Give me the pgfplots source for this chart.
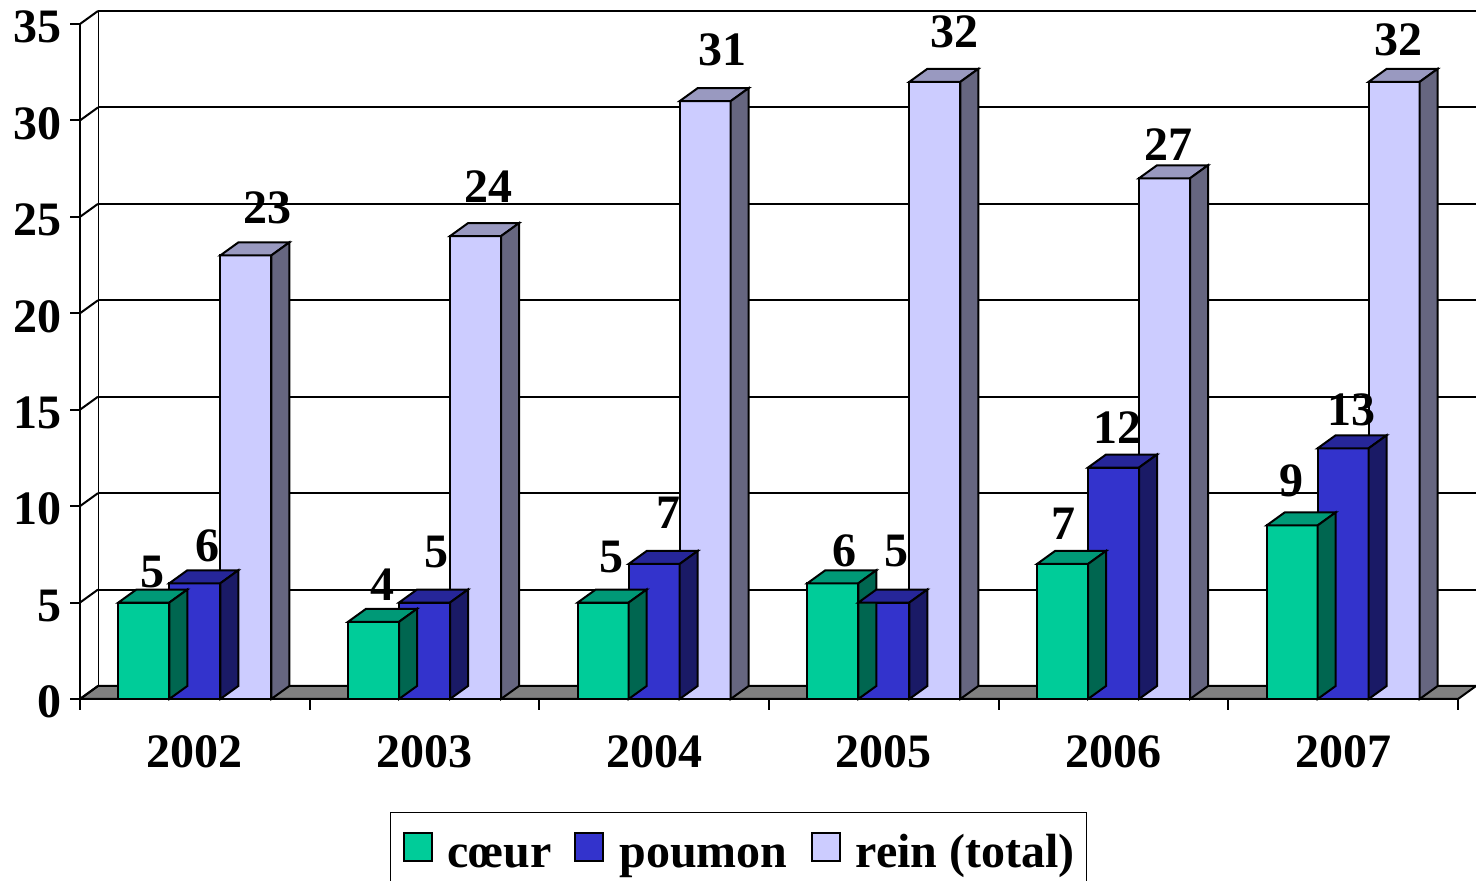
\documentclass[border=0pt]{standalone}
\usepackage{pgfplots}
\pgfplotsset{compat=1.18}
\usepackage{pgfplotstable}
\usepackage{fontspec}
\setmainfont{Liberation Serif}
\newcommand\bigbf{\fontsize{24}{28}\selectfont\bfseries}
\definecolor{cFront}{HTML}{00CC99}
\definecolor{cTop}{HTML}{009977}
\definecolor{cSide}{HTML}{006650}
\definecolor{pFront}{HTML}{3333CC}
\definecolor{pTop}{HTML}{262699}
\definecolor{pSide}{HTML}{1A1A66}
\definecolor{rFront}{HTML}{CCCCFF}
\definecolor{rTop}{HTML}{9999C0}
\definecolor{rSide}{HTML}{666680}
\definecolor{floorgray}{HTML}{808080}

% 3D faces (top and side) of a bar, drawn at the bar's data point
\newcommand\defbarmark[4]{%
\pgfdeclareplotmark{#1}{%
 \pgfsetlinewidth{1pt}\pgfsetstrokecolor{black}\pgfsetmiterjoin
 \pgfsetfillcolor{#3}%
 \pgfpathmoveto{\pgfpoint{#2pt-12.75pt}{0pt}}%
 \pgfpathlineto{\pgfpoint{#2pt-3.75pt}{6.5pt}}%
 \pgfpathlineto{\pgfpoint{#2pt+21.75pt}{6.5pt}}%
 \pgfpathlineto{\pgfpoint{#2pt+12.75pt}{0pt}}%
 \pgfpathclose\pgfusepath{fill,stroke}%
 \pgfsetfillcolor{#4}%
 \pgfpathmoveto{\pgfpoint{#2pt+12.75pt}{0pt}}%
 \pgfpathlineto{\pgfpoint{#2pt+21.75pt}{6.5pt}}%
 \pgfpathlineto{\pgfpoint{#2pt+21.75pt}{6.5pt-\barh*9.642857pt}}%
 \pgfpathlineto{\pgfpoint{#2pt+12.75pt}{-\barh*9.642857pt}}%
 \pgfpathclose\pgfusepath{fill,stroke}%
}}
\defbarmark{cfaces}{-25.5}{cTop}{cSide}
\defbarmark{pfaces}{0}{pTop}{pSide}
\defbarmark{rfaces}{25.5}{rTop}{rSide}
\pgfdeclareplotmark{diag}{\pgfsetlinewidth{1pt}\pgfpathmoveto{\pgfpointorigin}\pgfpathlineto{\pgfpoint{9pt}{6.5pt}}\pgfusepath{stroke}}
\pgfdeclareplotmark{ytk}{\pgfsetlinewidth{1pt}\pgfpathmoveto{\pgfpointorigin}\pgfpathlineto{\pgfpoint{-5pt}{0pt}}\pgfusepath{stroke}}
\pgfdeclareplotmark{xtk}{\pgfsetlinewidth{1pt}\pgfpathmoveto{\pgfpointorigin}\pgfpathlineto{\pgfpoint{0pt}{-5.5pt}}\pgfusepath{stroke}}

% dx, dy: label offset (pt) from the top centre of the group
\pgfplotstableread{
x v dx dy
0 5 -21 15.3
1 4 -21 18.5
2 5 -21.5 22.8
3 6 -19.5 16.2
4 7 -25 20
5 9 -26 22.2
}\coeur
\pgfplotstableread{
x v dx dy
0 6 6.5 18.7
1 5 6 25.3
2 7 7 25.5
3 5 6.5 25.8
4 12 2 19.8
5 13 4 19.2
}\poumon
\pgfplotstableread{
x v dx dy
0 23 36.5 23.7
1 24 32 25
2 31 34 25.5
3 32 35.5 25
4 27 27.5 16.7
5 32 27.5 21
}\rein

\pgfplotsset{
 /pgf/number format/assume math mode=true,
 mybar/.style={ybar, bar width=25.5pt, draw=black, line width=1pt,
   legend image code/.code={%
     \draw[##1, line width=1pt] (0.5pt,-3pt) rectangle (14.5pt,11pt);},
   visualization depends on={\thisrow{dx} \as \ldx},
   visualization depends on={\thisrow{dy} \as \ldy},
   nodes near coords,
   every node near coord/.append style={anchor=center, inner sep=0pt, text=black, font=\bigbf, xshift=\ldx pt, yshift=\ldy pt}},
 faces/.style={only marks, forget plot, visualization depends on={\thisrow{v} \as \barh}},
}

\begin{document}
\begin{tikzpicture}
\useasboundingbox (0,0) rectangle (738pt,440.5pt);
% back wall
\begin{axis}[at={(49pt,97.5pt)}, anchor=south west, scale only axis,
  width=689pt, height=337.5pt,
  xmin=-0.5, xmax=5.5, ymin=0, ymax=35,
  ytick={0,5,...,35}, xtick=\empty, yticklabels={,,,,,,,,}, major tick length=0pt,
  yticklabel style={text opacity=0},
  ymajorgrids, major grid style={black, line width=1pt},
  axis line style={draw=none}]
\addplot[black, line width=1pt] coordinates {(-0.5,0) (-0.5,35)};
\end{axis}
% front
\begin{axis}[at={(40pt,91pt)}, anchor=south west, scale only axis,
  width=689pt, height=337.5pt,
  xmin=-0.5, xmax=5.5, ymin=0, ymax=35, clip=false,
  axis lines*=left, axis line style={line width=1pt},
  ytick={0,5,...,35}, xtick={0,...,5}, xticklabels={2002,2003,2004,2005,2006,2007},
  major tick length=0pt,
  ticklabel style={font=\bigbf, inner sep=0pt},
  yticklabel style={anchor=east, xshift=-9pt, yshift=-1.5pt},
  xticklabel style={anchor=north, yshift=-18pt},
  legend style={at={(0.4779,-0.1674)}, anchor=north, legend columns=-1,
    draw=black, line width=0.75pt, font=\bigbf, inner xsep=6pt, inner ysep=9.5pt,
    nodes={inner sep=0pt, text height=18pt, text depth=5pt},
    /tikz/every odd column/.append style={column sep=7.5pt},
    /tikz/every even column/.append style={column sep=11.5pt}},
  ]
\addplot[fill=floorgray, draw=black, line width=1pt, forget plot]
  coordinates {(-0.5,0) (5.5,0) (5.57837,0.674) (-0.42163,0.674)} -- cycle;
\addplot[only marks, mark=diag, black, forget plot]
  coordinates {(-0.5,0)(-0.5,5)(-0.5,10)(-0.5,15)(-0.5,20)(-0.5,25)(-0.5,30)(-0.5,35)};
\addplot[only marks, mark=ytk, black, forget plot]
  coordinates {(-0.5,0)(-0.5,5)(-0.5,10)(-0.5,15)(-0.5,20)(-0.5,25)(-0.5,30)(-0.5,35)};
\addplot[only marks, mark=xtk, black, forget plot]
  coordinates {(-0.5,0)(0.5,0)(1.5,0)(2.5,0)(3.5,0)(4.5,0)(5.5,0)};
\addplot[faces, mark=cfaces] table[x=x, y=v] {\coeur};
\addplot[mybar, bar shift=-25.5pt, fill=cFront] table[x=x, y=v] {\coeur};
\addplot[faces, mark=pfaces] table[x=x, y=v] {\poumon};
\addplot[mybar, bar shift=0pt, fill=pFront] table[x=x, y=v] {\poumon};
\addplot[faces, mark=rfaces] table[x=x, y=v] {\rein};
\addplot[mybar, bar shift=25.5pt, fill=rFront] table[x=x, y=v] {\rein};
\legend{c\oe ur, poumon, rein (total)}
\end{axis}
\end{tikzpicture}
\end{document}
